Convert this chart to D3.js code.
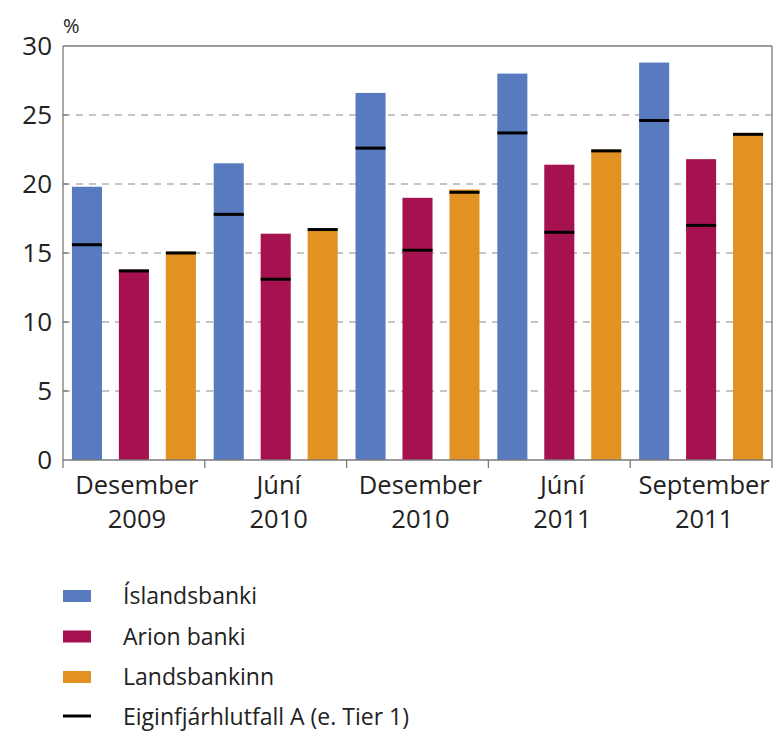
<!DOCTYPE html>
<html>
<head>
<meta charset="utf-8">
<script src="https://cdn.jsdelivr.net/npm/d3@7"></script>
<style>
body{margin:0;background:#fff;}
text{font-family:"Open Sans",sans-serif;fill:#222;}
</style>
</head>
<body>
<div id="chart"></div>
<script>
var periods = ["Desember 2009","Júní 2010","Desember 2010","Júní 2011","September 2011"];
var periodLines = [["Desember","2009"],["Júní","2010"],["Desember","2010"],["Júní","2011"],["September","2011"]];
var banks = ["Íslandsbanki","Arion banki","Landsbankinn"];
var colors = ["rgb(88, 122, 190)","rgb(166, 18, 80)","rgb(225, 146, 34)"];
// total capital ratio
var islandsbanki = [19.8, 21.5, 26.6, 28.0, 28.8];
var arion = [13.8, 16.4, 19.0, 21.4, 21.8];
var landsbankinn = [15.1, 16.7, 19.6, 22.5, 23.7];
// tier 1
var islandsbankiT1 = [15.6, 17.8, 22.6, 23.7, 24.6];
var arionT1 = [13.7, 13.1, 15.2, 16.5, 17.0];
var landsbankinnT1 = [15.0, 16.7, 19.4, 22.4, 23.6];
var yTicks = [0,5,10,15,20,25,30];
var tierLabel = "Eiginfjárhlutfall A (e. Tier 1)";

var totals = [islandsbanki, arion, landsbankinn];
var tiers = [islandsbankiT1, arionT1, landsbankinnT1];

var width = 784, height = 746;
var plotLeft = 63, plotRight = 772, plotTop = 46, plotBottom = 460;

var svg = d3.select("#chart").append("svg")
	.attr("width",width)
	.attr("height",height);

var x0 = d3.scaleBand().domain(periods).range([plotLeft,plotRight]).padding(0);
var x1 = d3.scaleBand().domain(banks).range([0,x0.bandwidth()]).paddingInner(0.36).paddingOuter(0.19);
var y = d3.scaleLinear().domain([0,30]).range([plotBottom,plotTop]);

//grid
svg.append("g").selectAll("line").data(yTicks.filter(function(d){ return d>0 && d<30; }))
	.enter().append("line")
		.attr("x1",plotLeft)
		.attr("x2",plotRight)
		.attr("y1",function(d){ return y(d); })
		.attr("y2",function(d){ return y(d); })
		.attr("stroke","#8a8a8a")
		.attr("stroke-width",1.2)
		.attr("stroke-dasharray","7,6");

//bars
var groups = svg.append("g").selectAll("g").data(periods)
	.enter().append("g")
		.attr("transform",function(d){ return "translate("+x0(d)+",0)"; });
groups.each(function(p, pi){
	var g = d3.select(this);
	for(var b=0; b<banks.length; b++){
		g.append("rect")
			.attr("x",x1(banks[b]))
			.attr("y",y(totals[b][pi]))
			.attr("width",x1.bandwidth())
			.attr("height",y(0)-y(totals[b][pi]))
			.attr("fill",colors[b]);
		g.append("line")
			.attr("x1",x1(banks[b]))
			.attr("x2",x1(banks[b])+x1.bandwidth())
			.attr("y1",y(tiers[b][pi]))
			.attr("y2",y(tiers[b][pi]))
			.attr("stroke","#000")
			.attr("stroke-width",3);
	}
});

//frame
var frame = svg.append("g").attr("stroke","#7a7a7a").attr("stroke-width",1.3).attr("fill","none");
frame.append("line").attr("x1",plotLeft).attr("x2",plotRight).attr("y1",plotTop).attr("y2",plotTop);
frame.append("line").attr("x1",plotRight).attr("x2",plotRight).attr("y1",plotTop).attr("y2",plotBottom+8);
frame.append("line").attr("x1",plotLeft).attr("x2",plotLeft).attr("y1",plotTop).attr("y2",plotBottom+8);
frame.append("line").attr("x1",plotLeft).attr("x2",plotRight).attr("y1",plotBottom).attr("y2",plotBottom);
frame.selectAll(".xt").data(periods.slice(1))
	.enter().append("line")
		.attr("x1",function(d){ return x0(d); })
		.attr("x2",function(d){ return x0(d); })
		.attr("y1",plotBottom)
		.attr("y2",plotBottom+8);
frame.selectAll(".yt").data(yTicks.slice(1,6))
	.enter().append("line")
		.attr("x1",plotLeft)
		.attr("x2",plotLeft+5)
		.attr("y1",function(d){ return y(d); })
		.attr("y2",function(d){ return y(d); });

//y labels
svg.append("g").selectAll("text").data(yTicks)
	.enter().append("text")
		.attr("x",52)
		.attr("y",function(d){ return y(d)+9; })
		.attr("text-anchor","end")
		.style("font-size","26px")
		.text(function(d){ return d; });
svg.append("text")
	.attr("x",63)
	.attr("y",33)
	.style("font-size","20px")
	.text("%");

//x labels
groups.each(function(p, pi){
	var g = d3.select(this);
	g.append("text")
		.attr("x",x0.bandwidth()/2+3)
		.attr("y",494)
		.attr("text-anchor","middle")
		.style("font-size","25.5px")
		.text(periodLines[pi][0]);
	g.append("text")
		.attr("x",x0.bandwidth()/2+3)
		.attr("y",528)
		.attr("text-anchor","middle")
		.style("font-size","25.5px")
		.text(periodLines[pi][1]);
});

//legend
var legend = svg.append("g");
for(var i=0; i<banks.length; i++){
	legend.append("rect")
		.attr("x",63)
		.attr("y",590+i*40.5)
		.attr("width",28)
		.attr("height",12)
		.attr("fill",colors[i]);
	legend.append("text")
		.attr("x",123)
		.attr("y",604+i*40.5)
		.style("font-size","23px")
		.text(banks[i]);
}
legend.append("line")
	.attr("x1",63)
	.attr("x2",91)
	.attr("y1",716)
	.attr("y2",716)
	.attr("stroke","#000")
	.attr("stroke-width",3);
legend.append("text")
	.attr("x",123)
	.attr("y",725)
	.style("font-size","23px")
	.text(tierLabel);
</script>
</body>
</html>
